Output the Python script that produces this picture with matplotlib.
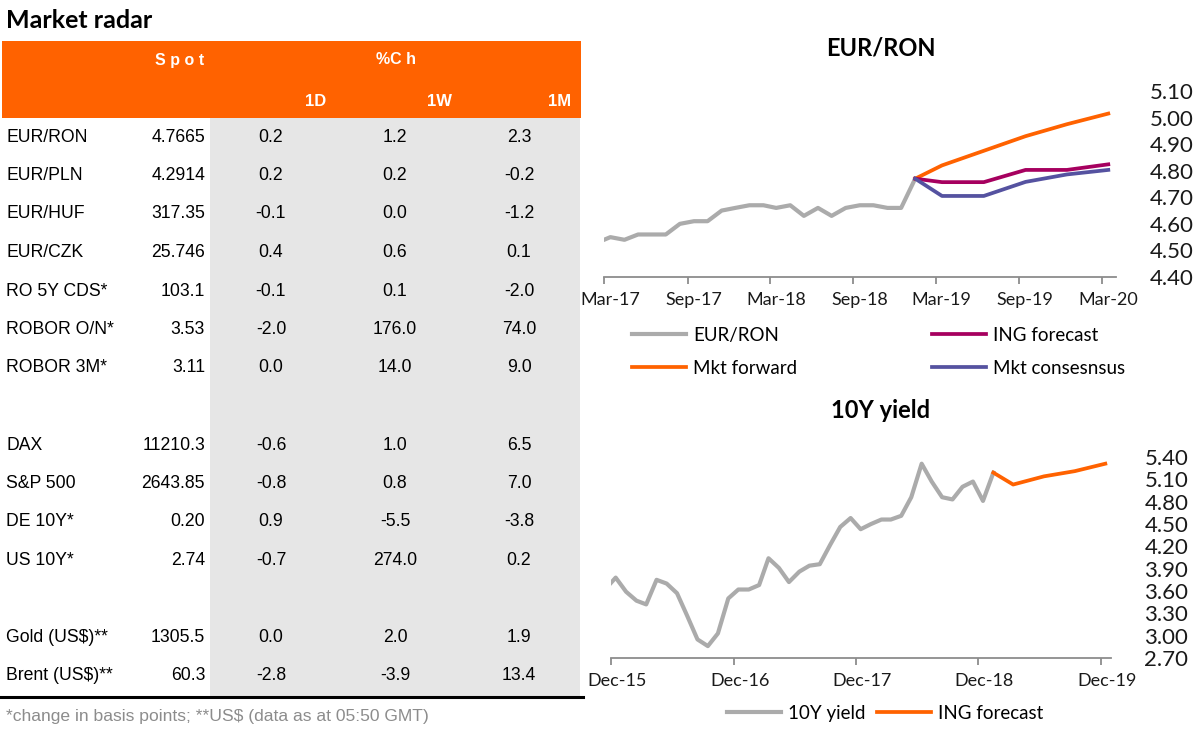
import matplotlib
matplotlib.use('Agg')
import matplotlib.pyplot as plt
import matplotlib.dates as mdates
import matplotlib.ticker as mticker
import matplotlib.transforms as mtransforms
from matplotlib.patches import Rectangle
from matplotlib.lines import Line2D
import pandas as pd

# ---- table data ----
row_names = ['EUR/RON', 'EUR/PLN', 'EUR/HUF', 'EUR/CZK', 'RO 5Y CDS*', 'ROBOR O/N*', 'ROBOR 3M*', '',
             'DAX', 'S&P 500', 'DE 10Y*', 'US 10Y*', '', 'Gold (US$)**', 'Brent (US$)**']
spot = ['4.7665', '4.2914', '317.35', '25.746', '103.1', '3.53', '3.11', '',
        '11210.3', '2643.85', '0.20', '2.74', '', '1305.5', '60.3']
ch_1d = ['0.2', '0.2', '-0.1', '0.4', '-0.1', '-2.0', '0.0', '',
         '-0.6', '-0.8', '0.9', '-0.7', '', '0.0', '-2.8']
ch_1w = ['1.2', '0.2', '0.0', '0.6', '0.1', '176.0', '14.0', '',
         '1.0', '0.8', '-5.5', '274.0', '', '2.0', '-3.9']
ch_1m = ['2.3', '-0.2', '-1.2', '0.1', '-2.0', '74.0', '9.0', '',
         '6.5', '7.0', '-3.8', '0.2', '', '1.9', '13.4']

# ---- EUR/RON chart data ----
ron_dates = [pd.Timestamp('2017-03-01')] + list(pd.date_range('2017-03-01', '2019-01-01', freq='MS') + pd.Timedelta(days=14))
ron_spot = [4.54, 4.55, 4.54, 4.56, 4.56, 4.56, 4.60, 4.61, 4.61, 4.65, 4.66, 4.67,
            4.67, 4.66, 4.67, 4.63, 4.66, 4.63, 4.66, 4.67, 4.67, 4.66, 4.66, 4.77]
fc_dates = pd.to_datetime(['2019-01-15', '2019-03-15', '2019-06-15', '2019-09-15', '2019-12-15', '2020-03-15'])
ron_fwd = [4.77, 4.82, 4.875, 4.93, 4.975, 5.015]
ron_ing = [4.77, 4.757, 4.757, 4.803, 4.803, 4.824]
ron_cons = [4.77, 4.705, 4.705, 4.758, 4.786, 4.803]

# ---- 10Y yield data ----
y10_dates = [pd.Timestamp('2015-12-01')] + list(pd.date_range('2015-12-01', '2019-01-01', freq='MS') + pd.Timedelta(days=14))
y10 = [3.71, 3.78, 3.59, 3.47, 3.42, 3.75, 3.70, 3.57, 3.27, 2.95, 2.86, 3.03, 3.50,
       3.62, 3.62, 3.68, 4.04, 3.91, 3.72, 3.86, 3.94, 3.96, 4.22, 4.46, 4.58, 4.43,
       4.50, 4.56, 4.56, 4.61, 4.86, 5.31, 5.07, 4.86, 4.83, 5.00, 5.07, 4.81, 5.19]
y10_fc_dates = pd.to_datetime(['2019-01-15', '2019-03-15', '2019-06-15', '2019-09-15', '2019-12-15'])
y10_fc = [5.19, 5.03, 5.14, 5.21, 5.31]

ORANGE = '#FF6200'
GREY = '#ABABAB'
MAGENTA = '#A6005F'
PURPLE = '#5552A0'
W, H = 1200, 739

def fx(x):
    return x / W

def fy(y):
    return 1 - y / H

fig = plt.figure(figsize=(12, 7.39), dpi=100)

# ---- table ----
tfont = 'Liberation Sans'
fig.text(fx(6), fy(21), 'Market radar', fontsize=18, fontweight='bold', family='Lato', va='center')
fig.patches.append(Rectangle((fx(2), fy(118)), fx(579), 77 / H, transform=fig.transFigure,
                             facecolor=ORANGE, edgecolor='none'))
fig.patches.append(Rectangle((fx(210), fy(697)), fx(370), 579 / H, transform=fig.transFigure,
                             facecolor='#E6E6E6', edgecolor='none'))
fig.lines.append(Line2D([0, fx(583)], [fy(697), fy(697)], transform=fig.transFigure,
                        color='black', lw=2.2))
hdr = dict(color='white', fontweight='bold', family=tfont, va='center', ha='center')
fig.text(fx(180), fy(61), 'S p o t', fontsize=11.5, **hdr)
fig.text(fx(396), fy(59), '%C h', fontsize=11.5, **hdr)
for x, lab in zip([316, 439, 560], ['1D', '1W', '1M']):
    fig.text(fx(x), fy(101), lab, fontsize=12, **hdr)

tsize = 12.7
for i, name in enumerate(row_names):
    if not name:
        continue
    y = fy(137 + 38.5 * i)
    fig.text(fx(6), y, name, fontsize=tsize, family=tfont, va='center', parse_math=False)
    fig.text(fx(205), y, spot[i], fontsize=tsize, family=tfont, va='center', ha='right')
    fig.text(fx(271), y, ch_1d[i], fontsize=tsize, family=tfont, va='center', ha='center')
    fig.text(fx(395), y, ch_1w[i], fontsize=tsize, family=tfont, va='center', ha='center')
    fig.text(fx(519), y, ch_1m[i], fontsize=tsize, family=tfont, va='center', ha='center')

fig.text(fx(6), fy(716), '*change in basis points; **US$ (data as at 05:50 GMT)', fontsize=12.6,
         family=tfont, color='#8C8C8C', va='center', parse_math=False)


def style_axis(ax, locator):
    for s in ['top', 'left', 'right']:
        ax.spines[s].set_visible(False)
    ax.spines['bottom'].set_color('#8C8C8C')
    ax.spines['bottom'].set_linewidth(1.3)
    ax.yaxis.tick_right()
    ax.tick_params(axis='y', which='both', length=0, pad=24, labelsize=16, labelcolor='#1A1A1A')
    ax.tick_params(axis='x', length=5, width=1.3, color='#8C8C8C', pad=6, labelsize=13,
                   labelcolor='#1A1A1A')
    ax.xaxis.set_major_locator(locator)
    ax.xaxis.set_major_formatter(mdates.DateFormatter('%b-%y'))
    ax.yaxis.set_major_formatter(mticker.FormatStrFormatter('%.2f'))
    offset = mtransforms.ScaledTranslation(0.06, 0, fig.dpi_scale_trans)
    for lab in ax.get_xticklabels():
        lab.set_transform(lab.get_transform() + offset)
    for lab in ax.get_xticklabels() + ax.get_yticklabels():
        lab.set_family('Lato')
    ax.set_facecolor('none')


leg_kw = dict(frameon=False, handlelength=2.9, handletextpad=0.35, borderpad=0,
              borderaxespad=0, labelspacing=0.85, prop={'family': 'Lato', 'size': 13.5})

# ---- EUR/RON chart ----
ax1 = fig.add_axes([fx(604), fy(277), (1116 - 604) / W, (277 - 91) / H])
ax1.plot(ron_dates, ron_spot, color=GREY, lw=3, label='EUR/RON')
ax1.plot(fc_dates, ron_fwd, color=ORANGE, lw=2.7, label='Mkt forward')
ax1.plot(fc_dates, ron_ing, color=MAGENTA, lw=2.7, label='ING forecast')
ax1.plot(fc_dates, ron_cons, color=PURPLE, lw=2.7, label='Mkt consesnsus')
ax1.set_xlim(pd.Timestamp('2017-03-01'), pd.Timestamp('2020-04-01'))
ax1.set_ylim(4.40, 5.10)
ax1.set_yticks([4.40, 4.50, 4.60, 4.70, 4.80, 4.90, 5.00, 5.10])
style_axis(ax1, mdates.MonthLocator(bymonth=[3, 9]))
fig.text(fx(881), fy(48), 'EUR/RON', fontsize=17, fontweight='bold', family='Lato',
         ha='center', va='center')

h1, l1 = ax1.get_legend_handles_labels()
fig.legend([h1[0], h1[1]], [l1[0], l1[1]], loc='upper left',
           bbox_to_anchor=(fx(632), fy(327)), **leg_kw)
fig.legend([h1[2], h1[3]], [l1[2], l1[3]], loc='upper left',
           bbox_to_anchor=(fx(932), fy(327)), **leg_kw)

# ---- 10Y yield chart ----
ax2 = fig.add_axes([fx(611), fy(658), (1111 - 611) / W, (658 - 457) / H])
ax2.plot(y10_dates, y10, color=GREY, lw=3, label='10Y yield')
ax2.plot(y10_fc_dates, y10_fc, color=ORANGE, lw=2.7, label='ING forecast')
ax2.set_xlim(pd.Timestamp('2015-12-01'), pd.Timestamp('2020-01-01'))
ax2.set_ylim(2.70, 5.40)
ax2.set_yticks([2.70, 3.00, 3.30, 3.60, 3.90, 4.20, 4.50, 4.80, 5.10, 5.40])
style_axis(ax2, mdates.MonthLocator(bymonth=[12]))
fig.text(fx(881), fy(410), '10Y yield', fontsize=17, fontweight='bold', family='Lato',
         ha='center', va='center')
fig.legend(*ax2.get_legend_handles_labels(), loc='upper left', ncol=2, columnspacing=0.6,
           bbox_to_anchor=(fx(727), fy(705)), **leg_kw)

fig.savefig('out.png', dpi=100)
